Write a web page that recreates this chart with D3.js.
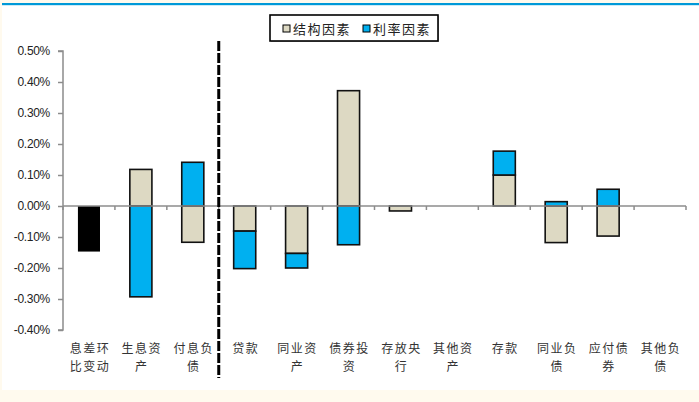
<!DOCTYPE html>
<html>
<head>
<meta charset="utf-8">
<script src="https://cdn.jsdelivr.net/npm/d3@7"></script>
<style>
  html, body { margin: 0; padding: 0; background: #fffaee; }
  svg { display: block; }
</style>
</head>
<body>
<div id="chart"></div>
<script>
// data (percent points)
const categories = ["息差环比变动", "生息资产", "付息负债", "贷款", "同业资产", "债券投资",
                    "存放央行", "其他资产", "存款", "同业负债", "应付债券", "其他负债"]
const labelLines = [["息差环", "比变动"], ["生息资", "产"], ["付息负", "债"], ["贷款"], ["同业资", "产"],
                    ["债券投", "资"], ["存放央", "行"], ["其他资", "产"], ["存款"], ["同业负", "债"],
                    ["应付债", "券"], ["其他负", "债"]]
const totalChange = [-0.147, 0, 0, 0, 0, 0, 0, 0, 0, 0, 0, 0]
const structureFactor = [0, 0.118, -0.117, -0.081, -0.153, 0.372, -0.016, 0, 0.100, -0.118, -0.097, 0]
const rateFactor = [0, -0.293, 0.141, -0.121, -0.047, -0.125, 0, 0, 0.077, 0.014, 0.054, 0]
const yTicks = [0.5, 0.4, 0.3, 0.2, 0.1, 0, -0.1, -0.2, -0.3, -0.4]
const seriesNames = ["结构因素", "利率因素"]

const width = 699
const height = 402
const margin = { left: 63, right: 13, top: 51, bottom: 72 }

const svg = d3.select("#chart")
  .append("svg")
  .attr("width", width)
  .attr("height", height)

// page frame
svg.append("rect").attr("x", 2).attr("y", 5).attr("width", width - 2).attr("height", 385).attr("fill", "#fff")
svg.append("rect").attr("x", 2).attr("y", 3).attr("width", width - 2).attr("height", 2.2).attr("fill", "#0099d8")

const x = d3.scaleBand()
  .domain(categories)
  .range([margin.left, width - margin.right])
  .paddingInner(0.575)
  .paddingOuter(0.2875)

const y = d3.scaleLinear()
  .domain([-0.4, 0.5])
  .range([height - margin.bottom, margin.top])

const rows = categories.map((c, i) => ({ cat: c, "结构因素": structureFactor[i], "利率因素": rateFactor[i] }))
const stacked = d3.stack()
  .keys(seriesNames)
  .offset(d3.stackOffsetDiverging)(rows)

const colors = { "结构因素": "#ddd9c3", "利率因素": "#00b0f0" }

// y axis
const yAxis = svg.append("g")
  .attr("transform", `translate(${margin.left},0)`)
  .call(d3.axisLeft(y).tickValues(yTicks).tickSize(5).tickPadding(8)
    .tickFormat(d => d.toFixed(2) + "%"))
yAxis.select(".domain").attr("stroke", "#8c8c8c").attr("stroke-width", 1.5)
  .attr("d", `M-5,${y(0.5)}H0V${y(-0.4)}H-5`)
yAxis.selectAll(".tick line").attr("stroke", "#8c8c8c").attr("stroke-width", 1.5)
yAxis.selectAll(".tick text")
  .attr("fill", "#222")
  .style("font-family", "'Liberation Sans', Arial, sans-serif")
  .style("font-size", "12px")
  .style("letter-spacing", "-0.3px")

// bars
svg.append("g").selectAll("g")
  .data(stacked)
  .join("g")
  .attr("fill", d => colors[d.key])
  .selectAll("rect")
  .data(d => d.filter(p => p[1] - p[0] !== 0))
  .join("rect")
  .attr("x", d => x(d.data.cat))
  .attr("width", x.bandwidth())
  .attr("y", d => y(d[1]))
  .attr("height", d => y(d[0]) - y(d[1]))
  .attr("stroke", "#111")
  .attr("stroke-width", 1.6)

svg.append("g").selectAll("rect")
  .data(categories.filter((c, i) => totalChange[i] !== 0))
  .join("rect")
  .attr("x", d => x(d))
  .attr("width", x.bandwidth())
  .attr("y", y(0))
  .attr("height", d => y(totalChange[categories.indexOf(d)]) - y(0))
  .attr("fill", "#000")

// x axis line with ticks at band boundaries
const step = x.step()
const xAxis = svg.append("g").attr("transform", `translate(0,${y(0)})`)
xAxis.append("line")
  .attr("x1", margin.left).attr("x2", width - margin.right)
  .attr("stroke", "#8c8c8c").attr("stroke-width", 1.5)
xAxis.selectAll(".xt")
  .data(d3.range(categories.length + 1))
  .join("line")
  .attr("class", "xt")
  .attr("x1", i => margin.left + i * step).attr("x2", i => margin.left + i * step)
  .attr("y1", 0).attr("y2", 4)
  .attr("stroke", "#8c8c8c").attr("stroke-width", 1.5)

// category labels
const labels = svg.append("g")
  .selectAll("text")
  .data(categories)
  .join("text")
  .attr("x", d => x(d) + x.bandwidth() / 2 + 1)
  .attr("y", 353)
  .attr("text-anchor", "middle")
  .attr("fill", "#333")
  .style("font-family", "'Noto Sans CJK SC', sans-serif")
  .style("font-size", "12px")
  .style("letter-spacing", "1.5px")
labels.selectAll("tspan")
  .data((d, i) => labelLines[i])
  .join("tspan")
  .attr("x", function () { return d3.select(this.parentNode).attr("x") })
  .attr("dy", (d, j) => j === 0 ? 0 : 18)
  .text(d => d)

// divider between total and components
svg.append("line")
  .attr("x1", x(categories[3]) - (step - x.bandwidth()) / 2)
  .attr("x2", x(categories[3]) - (step - x.bandwidth()) / 2)
  .attr("y1", 41).attr("y2", 378)
  .attr("stroke", "#000").attr("stroke-width", 3)
  .attr("stroke-dasharray", "10,2")

// legend
const legend = svg.append("g").attr("transform", "translate(270,15)")
legend.append("rect")
  .attr("x", 1).attr("y", 1).attr("width", 168).attr("height", 26)
  .attr("fill", "#bbb")
legend.append("rect")
  .attr("width", 168).attr("height", 26)
  .attr("fill", "#fff").attr("stroke", "#000").attr("stroke-width", 1.6)
const item = legend.selectAll(".item")
  .data(seriesNames)
  .join("g")
  .attr("class", "item")
  .attr("transform", (d, i) => `translate(${13 + i * 80},0)`)
item.append("rect")
  .attr("y", 10).attr("width", 7).attr("height", 7)
  .attr("fill", d => colors[d]).attr("stroke", "#000").attr("stroke-width", 1)
item.append("text")
  .attr("x", 10).attr("y", 18.5)
  .attr("fill", "#222")
  .style("font-family", "'Noto Sans CJK SC', sans-serif")
  .style("font-size", "13px")
  .style("letter-spacing", "1.5px")
  .text(d => d)
</script>
</body>
</html>
